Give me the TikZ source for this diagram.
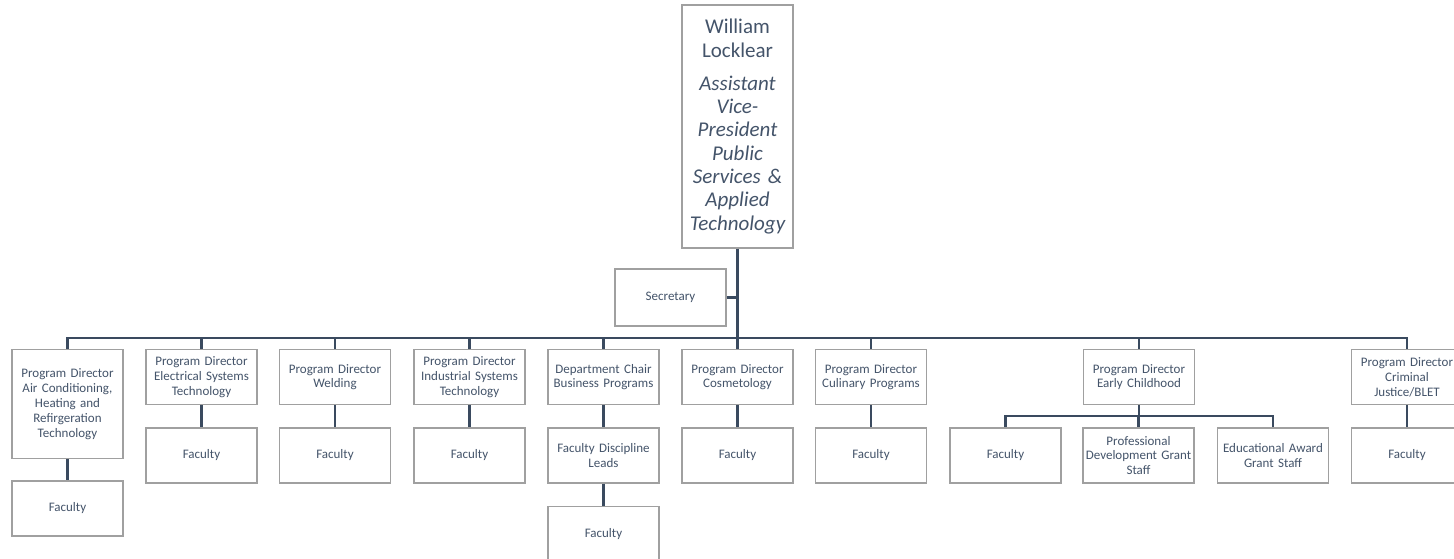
\documentclass[tikz,border=0pt]{standalone}
\usepackage{fontspec}
\setmainfont{Carlito}
\usepackage{tikz}
\usetikzlibrary{calc,positioning}
\definecolor{linecol}{HTML}{3A4A5F}
\definecolor{textcol}{HTML}{44546A}
\definecolor{boxcol}{HTML}{A0A0A0}
\tikzset{
  box/.style={draw=boxcol, line width=1.3pt, fill=white, text=textcol, align=center,
    text width=110, inner sep=0.5, minimum width=111, minimum height=55,
    font=\fontsize{13}{14.8}\selectfont},
  conn/.style={draw=linecol, line width=2.6pt},
}
\begin{document}
\begin{tikzpicture}[x=1pt, y=-1pt]
\useasboundingbox (0,0) rectangle (1454,558);
% --- Top of the chart ---
\node[box, minimum height=243, text width=110, font=\fontsize{21}{23.3}\selectfont] (boss) at (737.5,126.5)
  {William\\Locklear\\[10pt]\itshape Assistant\\Vice-\\President\\Public\\Services \&\\Applied\\Technology};
\node[box, minimum height=57] (sec) at (670.5,297.5) {Secretary};
\coordinate (bus) at (737.5,338);
% Trunk and secretary
\draw[conn] (boss.south) -- (bus);
\draw[conn] (sec.east) -- (sec.east -| boss.south);
% --- Second row (directors) ---
\node[box, anchor=north, minimum height=109] (acdir) at (67.5,349) {Program Director\\Air Conditioning,\\Heating and\\Refirgeration\\Technology};
\node[box, anchor=north] (elecdir) at (201.5,349) {Program Director\\Electrical Systems\\Technology};
\node[box, anchor=north] (welddir) at (335,349) {Program Director\\Welding};
\node[box, anchor=north] (inddir) at (469.5,349) {Program Director\\Industrial Systems\\Technology};
\node[box, anchor=north] (busdir) at (603.5,349) {Department Chair\\Business Programs};
\node[box, anchor=north] (cosdir) at (737.5,349) {Program Director\\Cosmetology};
\node[box, anchor=north] (culdir) at (871,349) {Program Director\\Culinary Programs};
\node[box, anchor=north] (ecdir) at (1139,349) {Program Director\\Early Childhood};
\node[box, anchor=north] (cjdir) at (1407,349) {Program Director\\Criminal\\Justice/BLET};
% Bus down to each director
\foreach \d in {acdir,elecdir,welddir,inddir,busdir,cosdir,culdir,ecdir,cjdir} {
    \draw[conn] (bus) -| (\d.north);
}
% --- Third row (faculty and staff) ---
\node[box] (acfac) at (67.5,508.5) {Faculty};
\node[box] (elecfac) at (201.5,455.5) {Faculty};
\node[box] (weldfac) at (335,455.5) {Faculty};
\node[box] (indfac) at (469.5,455.5) {Faculty};
\node[box] (buslead) at (603.5,455.5) {Faculty Discipline\\Leads};
\node[box, anchor=north] (busfac) at (603.5,506) {Faculty};
\node[box] (cosfac) at (737.5,455.5) {Faculty};
\node[box] (culfac) at (871,455.5) {Faculty};
\node[box] (ecfac) at (1005.5,455.5) {Faculty};
\node[box] (ecpro) at (1138.5,455.5) {Professional\\Development Grant\\Staff};
\node[box] (ecedu) at (1273,455.5) {Educational Award\\Grant Staff};
\node[box] (cjfac) at (1407,455.5) {Faculty};
% One-to-one links
\foreach \a/\b in {acdir/acfac, elecdir/elecfac, welddir/weldfac, inddir/indfac, busdir/buslead, buslead/busfac, cosdir/cosfac, culdir/culfac, cjdir/cjfac} {
    \draw[conn] (\a.south) -- (\b.north);
}
% Early childhood branch
\coordinate (ecbus) at (1139,416);
\draw[conn] (ecdir.south) -- (ecbus);
\foreach \c in {ecfac,ecpro,ecedu} {
    \draw[conn] (ecbus) -| (\c.north);
}
\end{tikzpicture}
\end{document}
